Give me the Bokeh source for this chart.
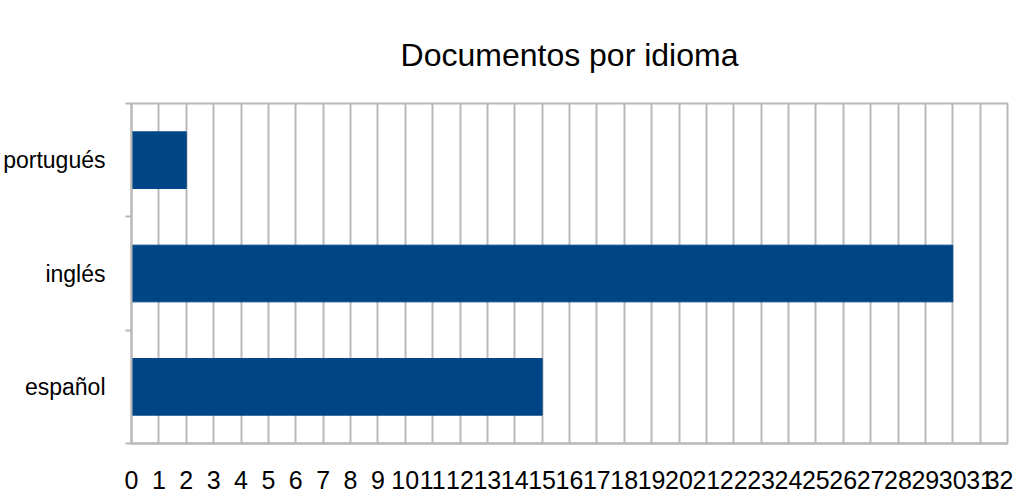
from bokeh.plotting import figure
from bokeh.models import FixedTicker, Range1d, ColumnDataSource
from bokeh.embed import file_html
from bokeh.resources import INLINE

title_text = "Documentos por idioma"
categories = ["español", "inglés", "portugués"]
values = [15, 30, 2]
x_ticks = list(range(0, 33))

FONT = "'Liberation Sans', Arial, sans-serif"
GRID = "#b8b8b8"
BAR = "#004586"

pos = [i + 0.5 for i in range(len(categories))]
src = ColumnDataSource(dict(y=pos, right=values, cat=categories))

p = figure(width=1013, height=495, output_backend="svg", toolbar_location=None,
           x_range=Range1d(0, 32), y_range=Range1d(0, len(categories)),
           min_border_left=125, min_border_right=6, min_border_top=103, min_border_bottom=52)

p.title.text = title_text
p.title.align = "center"
p.title.vertical_align = "top"
p.title.text_font = FONT
p.title.text_font_size = "32px"
p.title.text_font_style = "normal"
p.title.text_color = "#000000"
p.title.standoff = 58

p.hbar(y="y", right="right", left=0, height=0.5, source=src, color=BAR)

# x axis
p.xaxis.ticker = FixedTicker(ticks=x_ticks)
p.xaxis.major_tick_line_color = None
p.xaxis.minor_tick_line_color = None
p.xaxis.axis_line_color = GRID
p.xaxis.axis_line_width = 2
p.xaxis.major_label_text_font = FONT
p.xaxis.major_label_text_font_size = "25px"
p.xaxis.major_label_text_color = "#000000"
p.xaxis.major_label_standoff = 21

# y axis
p.yaxis.ticker = FixedTicker(ticks=pos, minor_ticks=list(range(0, len(categories) + 1)))
p.yaxis.major_label_overrides = {pv: c for pv, c in zip(pos, categories)}
p.yaxis.major_tick_line_color = None
p.yaxis.minor_tick_line_color = GRID
p.yaxis.minor_tick_line_width = 2
p.yaxis.minor_tick_out = 6
p.yaxis.minor_tick_in = 0
p.yaxis.axis_line_color = GRID
p.yaxis.axis_line_width = 2
p.yaxis.major_label_text_font = FONT
p.yaxis.major_label_text_font_size = "23px"
p.yaxis.major_label_text_color = "#000000"
p.yaxis.major_label_standoff = 20

p.xgrid.ticker = FixedTicker(ticks=x_ticks)
p.xgrid.grid_line_color = GRID
p.xgrid.grid_line_width = 2
p.ygrid.grid_line_color = None

p.outline_line_color = GRID
p.outline_line_width = 2
p.background_fill_color = "white"
p.border_fill_color = "white"

open("out.html", "w").write(file_html(p, INLINE))
